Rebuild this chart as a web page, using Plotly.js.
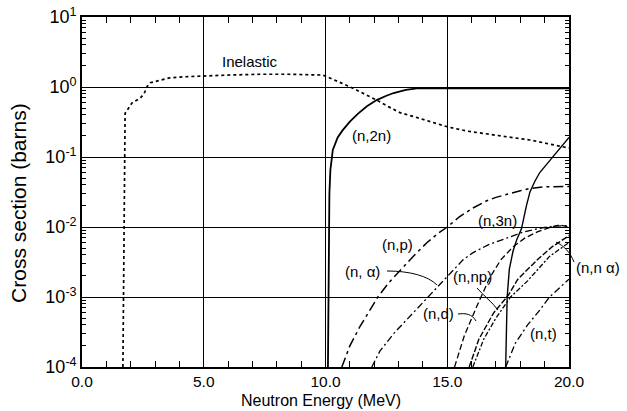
<!DOCTYPE html>
<html>
<head>
<meta charset="utf-8">
<script src="https://cdn.plot.ly/plotly-3.0.1.min.js"></script>
<style>html,body{margin:0;padding:0;background:#fff;}#chart{width:627px;height:411px;}</style>
</head>
<body>
<div id="chart"></div>
<script>
// ---- data (energy in MeV, cross section in barns) ----
var inelE = [1.68, 1.77, 2.05, 2.4, 2.55, 2.67, 2.8, 3.2, 3.6, 4.2, 5.0, 6.0, 7.3, 8.5, 9.9, 10.3, 10.7, 11.1, 11.6, 12.1, 12.6, 13.06, 13.6, 14.4, 15.0, 15.8, 16.3, 17.2, 18.4, 19.2, 20.0];
var inelS = [1e-4, 0.42, 0.59, 0.70, 0.80, 1.01, 1.15, 1.26, 1.35, 1.40, 1.44, 1.48, 1.52, 1.52, 1.48, 1.30, 1.12, 0.97, 0.80, 0.65, 0.52, 0.43, 0.38, 0.31, 0.27, 0.235, 0.22, 0.20, 0.175, 0.155, 0.134];

var n2nE = [10.1, 10.13, 10.16, 10.2, 10.3, 10.5, 10.7, 11.0, 11.35, 11.7, 12.1, 12.5, 12.8, 13.3, 13.75, 14.5, 15.0, 17.0, 20.0];
var n2nS = [1e-4, 2e-3, 0.03, 0.065, 0.126, 0.19, 0.24, 0.32, 0.42, 0.53, 0.65, 0.75, 0.82, 0.91, 0.955, 0.96, 0.96, 0.96, 0.955];

var n3nE = [17.4, 17.43, 17.46, 17.55, 17.7, 17.85, 18.05, 18.25, 18.4, 18.6, 18.8, 19.2, 19.6, 20.0];
var n3nS = [1e-4, 4e-4, 1e-3, 2.5e-3, 4.5e-3, 6.5e-3, 9.5e-3, 0.02, 0.032, 0.045, 0.06, 0.088, 0.13, 0.19];

var npE = [10.67, 11.0, 11.4, 11.8, 12.15, 12.6, 13.06, 13.6, 14.15, 14.6, 15.0, 15.5, 16.06, 16.6, 17.0, 17.45, 18.0, 18.4, 19.0, 20.0];
var npS = [1e-4, 2e-4, 3.7e-4, 6.2e-4, 1e-3, 1.6e-3, 2.4e-3, 3.8e-3, 5.9e-3, 8e-3, 1e-2, 1.4e-2, 1.87e-2, 2.35e-2, 2.65e-2, 2.95e-2, 3.3e-2, 3.55e-2, 3.75e-2, 3.8e-2];

var naE = [11.9, 12.24, 12.8, 13.5, 14.2, 14.9, 15.65, 16.06, 16.7, 17.45, 18.1, 18.8, 19.4, 20.0];
var naS = [1e-4, 1.7e-4, 3e-4, 5.5e-4, 1e-3, 1.8e-3, 3.4e-3, 4.3e-3, 5.6e-3, 7e-3, 8.4e-3, 9.6e-3, 1.03e-2, 1.05e-2];

var ndE = [15.3, 15.7, 16.2, 16.75, 17.2, 17.7, 18.2, 18.7, 19.2, 19.6, 20.0];
var ndS = [1e-4, 2.8e-4, 7.2e-4, 1.9e-3, 3.4e-3, 5.2e-3, 7e-3, 8.5e-3, 9.8e-3, 1.07e-2, 1e-2];

var nnaE = [15.9, 16.3, 16.9, 17.5, 17.9, 18.7, 19.3, 20.0];
var nnaS = [1e-4, 2.5e-4, 5.9e-4, 1.05e-3, 1.8e-3, 3.4e-3, 5.2e-3, 7.5e-3];

var nnpE = [16.05, 16.5, 17.0, 17.6, 18.3, 19.2, 20.0];
var nnpS = [1e-4, 2.5e-4, 5e-4, 1e-3, 1.7e-3, 3.8e-3, 6e-3];

var ntE = [17.4, 17.8, 18.3, 18.8, 19.2, 19.6, 20.0];
var ntS = [1e-4, 2.2e-4, 4e-4, 6.5e-4, 1e-3, 1.35e-3, 1.8e-3];

// tick labels
var xTickVals = [0, 5, 10, 15, 20];
var xTickText = ['0.0', '5.0', '10.0', '15.0', '20.0'];
var yTickVals = [1e-4, 1e-3, 1e-2, 1e-1, 1, 10];
var yTickText = ['10<sup>-4</sup>', '10<sup>-3</sup>', '10<sup>-2</sup>', '10<sup>-1</sup>', '10<sup>0</sup>', '10<sup>1</sup>'];

// curve labels inside the plot: text, energy, cross section
var labelText = ['Inelastic', '(n,2n)', '(n,3n)', '(n,p)', '(n, α)', '(n,np)', '(n,d)', '(n,t)'];
var labelE = [6.9, 11.9, 17.05, 12.95, 11.5, 16.05, 14.65, 18.95];
var labelS = [2.3, 0.205, 0.0125, 0.0057, 0.0023, 0.00195, 0.00058, 0.0003];
// label outside the plot area, at the right edge
var outsideLabel = '(n,n α)';

var FONT = 'Liberation Sans, Arial, sans-serif';

function tr(x, y, dash, w) {
  return {x: x, y: y, type: 'scatter', mode: 'lines', hoverinfo: 'skip',
          line: {color: '#000', width: w, dash: dash, shape: 'linear'}};
}
var traces = [
  tr(inelE, inelS, 'dot', 1.7),
  tr(n2nE, n2nS, 'solid', 1.8),
  tr(n3nE, n3nS, 'solid', 1.4),
  tr(npE, npS, '10px,4px,3px,4px', 1.5),
  tr(naE, naS, '7px,3px,2px,3px', 1.3),
  tr(ndE, ndS, '6px,3px', 1.3),
  tr(nnaE, nnaS, '6px,2px', 1.4),
  tr(nnpE, nnpS, '5px,2px,2px,2px', 1.3),
  tr(ntE, ntS, '7px,3px,2px,3px', 1.3)
];

var ann = labelText.map(function(t, i) {
  return {x: labelE[i], y: Math.log10(labelS[i]), xref: 'x', yref: 'y', text: t,
          showarrow: false, xanchor: 'center', yanchor: 'middle',
          font: {family: FONT, size: 15, color: '#000'}};
});
ann.push({x: 1.0595, y: 0.283, xref: 'paper', yref: 'paper', text: outsideLabel,
          showarrow: false, xanchor: 'center', yanchor: 'middle', font: {family: FONT, size: 15, color: '#000'}});
ann.push({x: 0.491, y: -0.097, xref: 'paper', yref: 'paper', text: 'Neutron Energy (MeV)',
          showarrow: false, xanchor: 'center', yanchor: 'middle', font: {family: FONT, size: 16, color: '#000'}});
ann.push({x: -0.13, y: 0.468, xref: 'paper', yref: 'paper', text: 'Cross section (barns)', textangle: -90,
          showarrow: false, xanchor: 'center', yanchor: 'middle', font: {family: FONT, size: 21, color: '#000'}});

// leader lines (pixel positions converted to paper coordinates of the plot area)
function P(px, py) { return ((px - 82) / 487).toFixed(4) + ',' + ((367 - py) / 350).toFixed(4); }
function leader(pts) {
  return {type: 'path', xref: 'paper', yref: 'paper', line: {color: '#000', width: 1},
          path: 'M' + P(pts[0], pts[1]) + ' C' + P(pts[2], pts[3]) + ' ' + P(pts[4], pts[5]) + ' ' + P(pts[6], pts[7])};
}
var shapes = [
  leader([387, 271, 410, 271, 428, 276, 437, 285]),
  leader([458, 314, 466, 313, 472, 314, 476, 321]),
  leader([477, 288, 484, 296, 492, 302, 498, 310]),
  leader([574, 262, 570, 252, 564, 246, 556, 242])
];

var layout = {
  width: 627, height: 411,
  margin: {l: 82, r: 58, t: 17, b: 44},
  paper_bgcolor: '#fff', plot_bgcolor: '#fff',
  showlegend: false,
  font: {family: FONT, color: '#000'},
  xaxis: {
    range: [0, 20], tickmode: 'array', tickvals: xTickVals, ticktext: xTickText,
    ticks: 'inside', ticklen: 6, tickcolor: '#000', tickwidth: 1,
    showgrid: true, gridcolor: '#000', gridwidth: 1,
    showline: true, linecolor: '#000', linewidth: 1.8, mirror: 'ticks',
    zeroline: false, tickfont: {family: FONT, size: 15.5, color: '#000'},
    minor: {tickmode: 'linear', tick0: 0, dtick: 1, ticks: 'inside', ticklen: 6, tickcolor: '#000', tickwidth: 1, showgrid: false}
  },
  yaxis: {
    type: 'log', range: [-4, 1], tickmode: 'array', tickvals: yTickVals, ticktext: yTickText,
    ticks: 'inside', ticklen: 5, tickcolor: '#000', tickwidth: 1,
    showgrid: true, gridcolor: '#000', gridwidth: 1,
    showline: true, linecolor: '#000', linewidth: 1.8, mirror: 'ticks',
    zeroline: false, tickfont: {family: FONT, size: 18, color: '#000'},
    minor: {tickmode: 'linear', dtick: 'D1', ticks: 'inside', ticklen: 4, tickcolor: '#000', tickwidth: 1, showgrid: false}
  },
  annotations: ann,
  shapes: shapes
};

Plotly.newPlot('chart', traces, layout, {displayModeBar: false, staticPlot: true});
</script>
</body>
</html>
